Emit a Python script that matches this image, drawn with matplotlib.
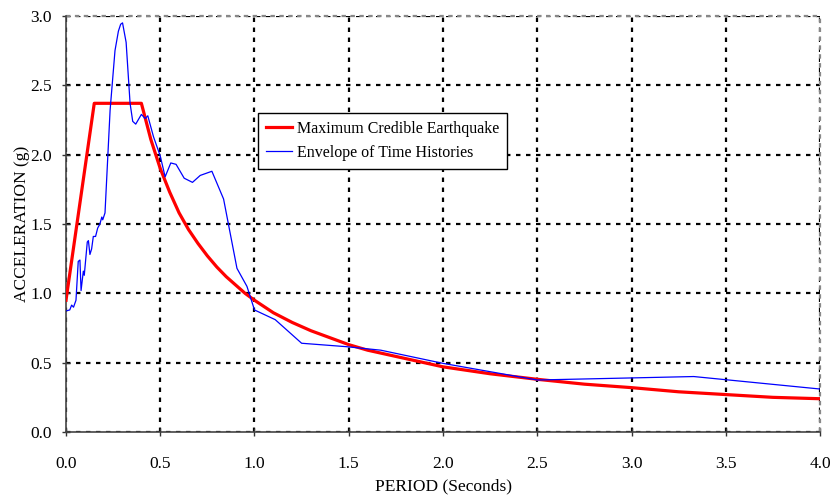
import matplotlib
matplotlib.use("Agg")
import matplotlib.pyplot as plt

# espectro de diseno (MCE)
periodo_mce = [0.0, 0.15, 0.4, 0.45, 0.5, 0.55, 0.6, 0.65, 0.7, 0.75, 0.8, 0.85, 0.9,
               0.95, 1.0, 1.1, 1.2, 1.3, 1.4, 1.5, 1.6, 1.7, 1.8, 1.9, 2.0, 2.25,
               2.5, 2.75, 3.0, 3.25, 3.5, 3.75, 4.0]
acel_mce = [0.95, 2.37, 2.37, 2.11, 1.90, 1.73, 1.58, 1.46, 1.36, 1.27, 1.19, 1.12, 1.06,
            1.00, 0.95, 0.86, 0.79, 0.73, 0.68, 0.63, 0.59, 0.56, 0.53, 0.50, 0.47, 0.42,
            0.38, 0.345, 0.32, 0.29, 0.27, 0.25, 0.24]

# envolvente de historias de tiempo
periodo_env = [0.005, 0.02, 0.03, 0.04, 0.053, 0.065, 0.074, 0.08, 0.092, 0.097, 0.113,
               0.119, 0.127, 0.136, 0.145, 0.157, 0.168, 0.18, 0.19, 0.195, 0.207,
               0.234, 0.26, 0.278, 0.29, 0.30, 0.319, 0.34, 0.354, 0.37, 0.40, 0.42,
               0.434, 0.464, 0.50, 0.526, 0.556, 0.584, 0.627, 0.671, 0.712, 0.774,
               0.836, 0.907, 0.96, 1.0, 1.11, 1.25, 1.49, 1.67, 2.0, 2.5, 3.0, 3.33, 4.0]
acel_env = [0.875, 0.88, 0.915, 0.90, 0.95, 1.23, 1.24, 1.02, 1.16, 1.13, 1.37,
            1.38, 1.28, 1.32, 1.41, 1.41, 1.47, 1.50, 1.55, 1.53, 1.58,
            2.32, 2.75, 2.89, 2.94, 2.95, 2.81, 2.37, 2.24, 2.22, 2.29, 2.26,
            2.28, 2.13, 1.99, 1.84, 1.94, 1.93, 1.83, 1.80, 1.85, 1.88,
            1.68, 1.18, 1.05, 0.88, 0.81, 0.64, 0.615, 0.59, 0.495, 0.375, 0.39, 0.40, 0.31]

plt.rcParams['font.family'] = ['Liberation Serif', 'DejaVu Serif']

fig = plt.figure(figsize=(8.31, 4.98), dpi=100)
ax = fig.add_axes([0.0794, 0.1325, 0.9074, 0.8355])

ax.plot(periodo_mce, acel_mce, color='red', lw=2.3, label='Maximum Credible Earthquake', zorder=3)
ax.plot(periodo_env, acel_env, color='blue', lw=0.9, label='Envelope of Time Histories', zorder=4)

ax.set_xlim(0, 4.0)
ax.set_ylim(0, 3.0)
ax.set_xticks([i * 0.5 for i in range(9)])
ax.set_yticks([i * 0.5 for i in range(7)])
ax.xaxis.set_major_formatter(matplotlib.ticker.FormatStrFormatter('%.1f'))
ax.yaxis.set_major_formatter(matplotlib.ticker.FormatStrFormatter('%.1f'))
ax.tick_params(direction='inout', length=6, width=1, colors='#333333', labelcolor='black', labelsize=12.5)
ax.tick_params(axis='x', pad=14)
ax.tick_params(axis='y', pad=7)

# rejilla punteada
ax.grid(True, color='black', linestyle=(0, (2, 2.5)), linewidth=1.6, zorder=1)
ax.set_axisbelow(True)

for lado in ['top', 'right']:
    ax.spines[lado].set_visible(False)
for lado in ['left', 'bottom']:
    ax.spines[lado].set_color('#444444')
    ax.spines[lado].set_linewidth(1.2)
ax.axhline(3.0, color='#888888', linestyle=(0, (2, 2)), linewidth=1.6, clip_on=False)
ax.axvline(4.0, color='#888888', linestyle=(0, (2, 2)), linewidth=1.6, clip_on=False)

ax.set_xlabel('PERIOD (Seconds)', fontsize=12.5, labelpad=5)
ax.set_ylabel('ACCELERATION (g)', fontsize=12.5, labelpad=0)

leg = ax.legend(loc='upper left', bbox_to_anchor=(0.2546, 0.7668), fontsize=11.5, fancybox=False,
                framealpha=1, edgecolor='black', borderpad=0.5, borderaxespad=0,
                handlelength=1.65, handletextpad=0.3, labelspacing=0.5)
leg.get_frame().set_linewidth(1.0)

fig.savefig('out.png', dpi=100)
